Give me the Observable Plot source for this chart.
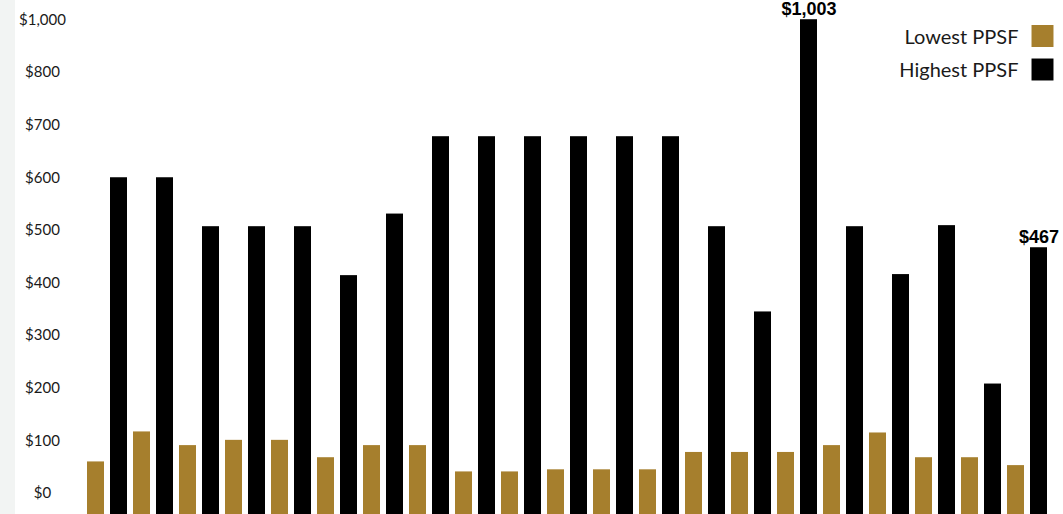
<!DOCTYPE html>
<html>
<head>
<meta charset="utf-8">
<script src="https://cdn.jsdelivr.net/npm/d3@7"></script>
<script src="https://cdn.jsdelivr.net/npm/@observablehq/plot@0.6"></script>
<style>
  html, body { margin: 0; padding: 0; }
  body {
    width: 1063px;
    height: 514px;
    overflow: hidden;
    background: linear-gradient(to right, #f2f4f3 0 15px, #ffffff 15px);
  }
  #chart svg { display: block; }
</style>
</head>
<body>
<div id="chart"></div>
<script>
// Price per square foot, lowest and highest, for each of 21 listings
const categories = ["1","2","3","4","5","6","7","8","9","10","11","12","13","14","15","16","17","18","19","20","21"];
const lowest  = [60, 117, 91, 101, 101, 68, 91, 91, 41, 41, 45, 45, 45, 78, 78, 78, 91, 115, 68, 68, 53];
const highest = [600, 600, 507, 507, 507, 414, 531, 678, 678, 678, 678, 678, 678, 507, 345, 1003, 507, 416, 509, 208, 467];
const seriesNames = ["Lowest PPSF", "Highest PPSF"];
const seriesColors = ["#a67f2d", "#000000"];
const yTicks = [0, 100, 200, 300, 400, 500, 600, 700, 800, 1000];
const labelled = ["16", "21"]; // listings whose highest value is printed

const rows = categories.flatMap((c, i) => [
  {category: c, series: seriesNames[0], value: lowest[i], key: c + "|" + seriesNames[0]},
  {category: c, series: seriesNames[1], value: highest[i], key: c + "|" + seriesNames[1]}
]);
const keys = rows.map(d => d.key);
const callouts = rows.filter(d => d.series === seriesNames[1] && labelled.includes(d.category));
const legend = seriesNames.map((s, i) => ({series: s, color: seriesColors[i], row: i}));

const money = d => "$" + d3.format(",")(d);
const fontAxis = "Lato, 'Open Sans', sans-serif";

const chart = Plot.plot({
  width: 1063,
  height: 514,
  marginLeft: 79,
  marginRight: 8,
  marginTop: 0,
  marginBottom: 0,
  style: {background: "transparent", overflow: "visible"},
  x: {type: "band", domain: keys, padding: 0.24, axis: null},
  // piecewise: the top step of the axis jumps from $800 to $1,000
  y: {type: "linear", domain: [0, 800, 1000], range: [493, 72, 20], axis: null},
  color: {domain: seriesNames, range: seriesColors},
  marks: [
    Plot.barY(rows, {x: "key", y: "value", fill: "series", insetBottom: -22}),
    Plot.text(callouts, {
      x: "key", y: "value", text: d => money(d.value),
      lineAnchor: "bottom", dy: -5,
      fontFamily: "'Liberation Sans', Arial, sans-serif",
      fontWeight: "bold", fontSize: 18, fill: "#000"
    }),
    Plot.axisY(yTicks, {
      tickSize: 0, tickPadding: 37, textAnchor: "middle",
      tickFormat: money, fontFamily: fontAxis, fontSize: 15,
      fill: "#1a1a1a", label: null
    }),
    // Legend, anchored to the top-right corner of the frame
    Plot.dot(legend, {
      frameAnchor: "top-right", dx: -13, dy: 35.5,
      symbol: "square", r: 12.4, fill: "color",
      filter: d => d.row === 0
    }),
    Plot.dot(legend, {
      frameAnchor: "top-right", dx: -13, dy: 69,
      symbol: "square", r: 12.4, fill: "color",
      filter: d => d.row === 1
    }),
    Plot.text(legend, {
      frameAnchor: "top-right", dx: -37, dy: 37, textAnchor: "end", lineAnchor: "middle",
      text: "series", fontFamily: fontAxis, fontSize: 20, fill: "#1a1a1a",
      filter: d => d.row === 0
    }),
    Plot.text(legend, {
      frameAnchor: "top-right", dx: -37, dy: 70, textAnchor: "end", lineAnchor: "middle",
      text: "series", fontFamily: fontAxis, fontSize: 20, fill: "#1a1a1a",
      filter: d => d.row === 1
    })
  ]
});
document.getElementById("chart").append(chart);
</script>
</body>
</html>
